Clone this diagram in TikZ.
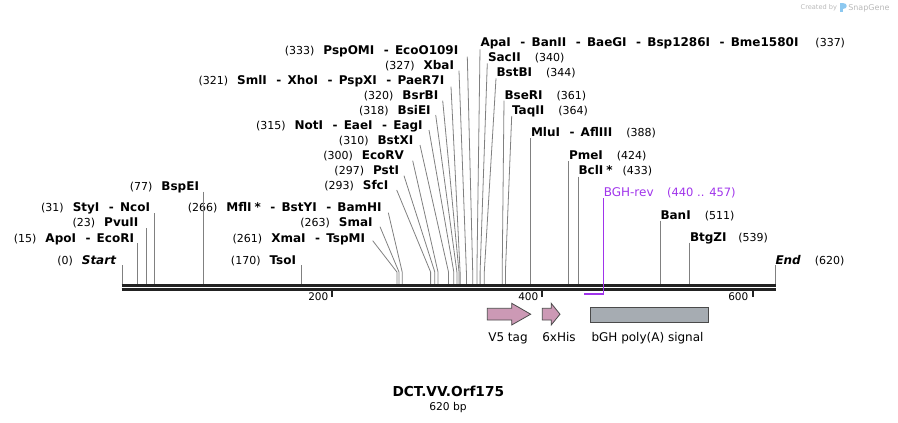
\documentclass[tikz,border=0pt]{standalone}
\usepackage{fontspec}
\setmainfont{DejaVu Sans}
\definecolor{cutgray}{RGB}{128,128,128}
\definecolor{primer}{RGB}{160,52,235}
\definecolor{tagpink}{RGB}{204,153,181}
\definecolor{polyagray}{RGB}{166,172,178}
\definecolor{bbone}{RGB}{34,34,34}
\definecolor{featedge}{RGB}{74,74,74}
\definecolor{wmgray}{RGB}{185,185,185}
\definecolor{logoblue}{RGB}{140,200,240}
\newcommand\nmf{\fontsize{12}{14}\selectfont\bfseries}
\newcommand\nbf{\fontsize{11}{13}\selectfont\mdseries}
\newcommand\nm[1]{{\nmf #1}}
\newcommand\nb[1]{{\nbf (#1)}}
\newcommand\sepr{\hspace{9.5pt}{\nmf -}\hspace{6.2pt}}
\newcommand\gl{\hspace{9pt}}
\newcommand\gr{\hspace{14pt}}
\begin{document}
\begin{tikzpicture}[x=1pt,y=-1pt,
  lab/.style={inner sep=0pt, outer sep=0pt},
  llab/.style={lab, anchor=base east},
  rlab/.style={lab, anchor=base west},
  cut/.style={draw=cutgray, line width=0.8pt},
  prim/.style={draw=primer, line width=1pt},
  feat/.style={draw=featedge, line width=0.8pt},
  featlab/.style={lab, anchor=base west, font=\fontsize{12}{14}\selectfont},
  rulerlab/.style={lab, anchor=base east, font=\fontsize{10.5}{12}\selectfont},
  tick/.style={draw=bbone, line width=2pt},
  backbone/.style={draw=bbone, line width=2.6pt}]
\path[use as bounding box] (0,0) rectangle (898,423);

% ---------- left-hand labels ----------
\node[llab] (l0)   at (116,264.3)  {\nb{0}\gl{\nmf\itshape Start}};
\node[llab] (l15)  at (134,242)    {\nb{15}\gl\nm{ApoI}\sepr\nm{EcoRI}};
\node[llab] (l23)  at (138.3,226.7){\nb{23}\gl\nm{PvuII}};
\node[llab] (l31)  at (150,211.7)  {\nb{31}\gl\nm{StyI}\sepr\nm{NcoI}};
\node[llab] (l77)  at (199,190)    {\nb{77}\gl\nm{BspEI}};
\node[llab] (l170) at (296,264.3)  {\nb{170}\gl\nm{TsoI}};
\node[llab] (l261) at (365,242)    {\nb{261}\gl\nm{XmaI}\sepr\nm{TspMI}};
\node[llab] (l263) at (372.7,226.7){\nb{263}\gl\nm{SmaI}};
\node[llab] (l266) at (381.7,211.7){\nb{266}\gl\nm{MflI\hspace{3pt}*}\sepr\nm{BstYI}\sepr\nm{BamHI}};
\node[llab] (l293) at (388.3,189)  {\nb{293}\gl\nm{SfcI}};
\node[llab] (l297) at (399,174)    {\nb{297}\gl\nm{PstI}};
\node[llab] (l300) at (404,159)    {\nb{300}\gl\nm{EcoRV}};
\node[llab] (l310) at (413.3,144)  {\nb{310}\gl\nm{BstXI}};
\node[llab] (l315) at (422.7,129.3){\nb{315}\gl\nm{NotI}\sepr\nm{EaeI}\sepr\nm{EagI}};
\node[llab] (l318) at (430.7,114)  {\nb{318}\gl\nm{BsiEI}};
\node[llab] (l320) at (438.3,99)   {\nb{320}\gl\nm{BsrBI}};
\node[llab] (l321) at (444.3,84)   {\nb{321}\gl\nm{SmlI}\sepr\nm{XhoI}\sepr\nm{PspXI}\sepr\nm{PaeR7I}};
\node[llab] (l327) at (454,69)     {\nb{327}\gl\nm{XbaI}};
\node[llab] (l333) at (458.3,54)   {\nb{333}\gl\nm{PspOMI}\sepr\nm{EcoO109I}};

% ---------- right-hand labels ----------
\node[rlab] (r337) at (480.5,46)   {\nm{ApaI}\sepr\nm{BanII}\sepr\nm{BaeGI}\sepr\nm{Bsp1286I}\sepr\nm{Bme1580I}\hspace{17pt}\nb{337}};
\node[rlab] (r340) at (488,61)     {\nm{SacII}\gr\nb{340}};
\node[rlab] (r344) at (496.5,76)   {\nm{BstBI}\gr\nb{344}};
\node[rlab] (r361) at (504.5,99)   {\nm{BseRI}\gr\nb{361}};
\node[rlab] (r364) at (512,114.3)  {\nm{TaqII}\gr\nb{364}};
\node[rlab] (r388) at (531,136.7)  {\nm{MluI}\sepr\nm{AflIII}\gr\nb{388}};
\node[rlab] (r424) at (569,159.3)  {\nm{PmeI}\gr\nb{424}};
\node[rlab] (r433) at (578.5,174.7){\nm{BclI\hspace{3pt}*}\hspace{10pt}\nb{433}};
\node[rlab, text=primer] (rbgh) at (603.8,196.7) {{\fontsize{12}{14}\selectfont BGH-rev}\hspace{13.4pt}{\fontsize{11.5}{13}\selectfont(440 .. 457)}};
\node[rlab] (r511) at (660.5,219)  {\nm{BanI}\gr\nb{511}};
\node[rlab] (r539) at (690,241.7)  {\nm{BtgZI}\hspace{11.7pt}\nb{539}};
\node[rlab] (r620) at (775.5,264.3){{\nmf\itshape End}\gr\nb{620}};

% ---------- connectors: straight ----------
\draw[cut] (122.3,265)   -- (122.3,285);
\draw[cut] (137.8,243.3) -- (137.8,285);
\draw[cut] (146.2,228.3) -- (146.2,285);
\draw[cut] (154.6,213.3) -- (154.6,285);
\draw[cut] (203.1,191.7) -- (203.1,285);
\draw[cut] (301.0,265)   -- (301.0,285);
\draw[cut] (530.6,138.3) -- (530.6,285);
\draw[cut] (568.6,161)   -- (568.6,285);
\draw[cut] (578.0,176.5) -- (578.0,285);
\draw[cut] (660.2,220.7) -- (660.2,285);
\draw[cut] (689.7,242.7) -- (689.7,285);
\draw[cut] (775.0,265)   -- (775.0,285);

% ---------- connectors: slanted ----------
\draw[cut] (372.7,240.7) -- (396.9,272) -- (396.9,285);
\draw[cut] (380.0,226.7) -- (399.0,272) -- (399.0,285);
\draw[cut] (388.3,212.7) -- (402.2,272) -- (402.2,285);
\draw[cut] (396.7,190.0) -- (430.6,272) -- (430.6,285);
\draw[cut] (404.0,175.7) -- (434.8,272) -- (434.8,285);
\draw[cut] (412.7,160.7) -- (438.0,272) -- (438.0,285);
\draw[cut] (420.0,145.0) -- (448.5,272) -- (448.5,285);
\draw[cut] (429.0,130.0) -- (453.8,272) -- (453.8,285);
\draw[cut] (435.7,115.0) -- (456.9,272) -- (456.9,285);
\draw[cut] (442.7,100.7) -- (459.0,272) -- (459.0,285);
\draw[cut] (451.0,86.7)  -- (460.1,272) -- (460.1,285);
\draw[cut] (459.0,70.7)  -- (466.4,272) -- (466.4,285);
\draw[cut] (467.3,56.7)  -- (472.7,272) -- (472.7,285);
\draw[cut] (480.0,49.3)  -- (476.9,272) -- (476.9,285);
\draw[cut] (487.3,63.3)  -- (480.1,272) -- (480.1,285);
\draw[cut] (496.0,78.3)  -- (484.3,272) -- (484.3,285);
\draw[cut] (504.0,100.7) -- (502.2,272) -- (502.2,285);
\draw[cut] (511.7,116.0) -- (505.4,272) -- (505.4,285);

% ---------- backbone ----------
\coordinate (bbL) at (121.5,285.3);
\coordinate (bbR) at (775.5,285.3);
\draw[backbone] (bbL) -- (bbR);
\draw[backbone, line width=2.4pt] (121.5,289.5) -- (775.5,289.5);

% ---------- primer ----------
\draw[prim] (603.3,198.3) -- (603.3,294.7);
\draw[primer, line width=2pt] (584,293.7) -- (603.3,293.7);

% ---------- ruler ----------
\draw[tick] (331.6,290.5) -- (331.6,297.3);
\draw[tick] (541.8,290.5) -- (541.8,297.3);
\draw[tick] (752.5,290.5) -- (752.5,297.3);
\node[rulerlab] (t200) at (328.3,300.7) {200};
\node[rulerlab] (t400) at (538.3,300.7) {400};
\node[rulerlab] (t600) at (748.3,300.7) {600};

% ---------- features ----------
\draw[feat, fill=tagpink] (487.3,308.3) -- (511.7,308.3) -- (511.7,303.3) -- (530.7,314.2)
   -- (511.7,325) -- (511.7,320) -- (487.3,320) -- cycle;
\draw[feat, fill=tagpink] (542.3,308.3) -- (551.2,308.3) -- (551.2,303.3) -- (560,314.2)
   -- (551.2,325) -- (551.2,320) -- (542.3,320) -- cycle;
\draw[feat, fill=polyagray] (590.7,307.7) rectangle (708.3,322.7);
\node[featlab] (fv5)  at (488.3,341.3) {V5 tag};
\node[featlab] (fhis) at (542.3,341.3) {6xHis};
\node[featlab] (fbgh) at (591.5,341.3) {bGH poly(A) signal};

% ---------- title ----------
\node[lab, anchor=base, font=\fontsize{13.7}{16}\selectfont\bfseries] (title) at (448.3,396.7) {DCT.VV.Orf175};
\node[lab, anchor=base, font=\fontsize{10.7}{12}\selectfont] (len) at (448,410.7) {620 bp};

% ---------- watermark ----------
\node[lab, anchor=base west, text=wmgray, font=\fontsize{6.6}{8}\selectfont] (wm1) at (800.7,9.8) {Created by};
\fill[logoblue] (840,2.5) rectangle (843,12) ;
\fill[logoblue] (843,2.5) .. controls (847.5,2.5) and (847.5,9) .. (843,9) -- cycle;
\node[lab, anchor=base west, text=wmgray, font=\fontsize{8}{10}\selectfont] (wm2) at (848.3,10.5) {SnapGene};
\end{tikzpicture}
\end{document}
